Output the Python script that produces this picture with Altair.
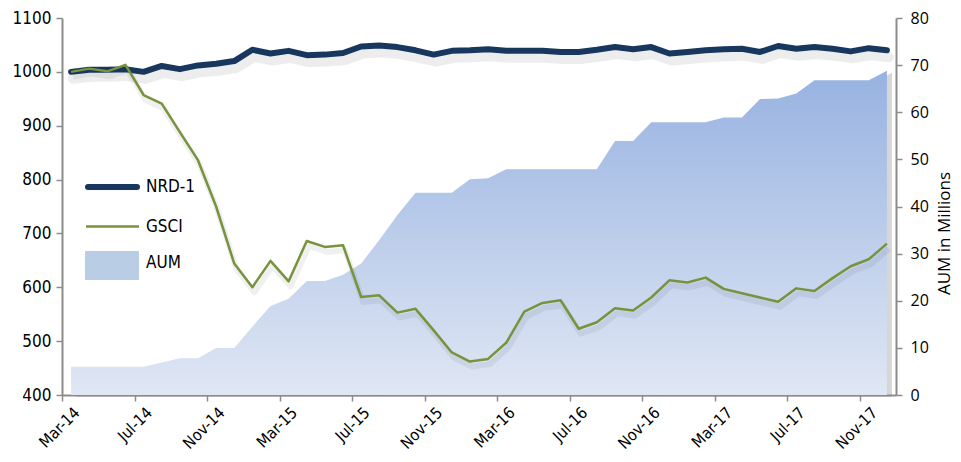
import altair as alt
import pandas as pd

months = ["Mar-14", "Apr-14", "May-14", "Jun-14", "Jul-14", "Aug-14", "Sep-14", "Oct-14", "Nov-14", "Dec-14",
          "Jan-15", "Feb-15", "Mar-15", "Apr-15", "May-15", "Jun-15", "Jul-15", "Aug-15", "Sep-15", "Oct-15", "Nov-15", "Dec-15",
          "Jan-16", "Feb-16", "Mar-16", "Apr-16", "May-16", "Jun-16", "Jul-16", "Aug-16", "Sep-16", "Oct-16", "Nov-16", "Dec-16",
          "Jan-17", "Feb-17", "Mar-17", "Apr-17", "May-17", "Jun-17", "Jul-17", "Aug-17", "Sep-17", "Oct-17", "Nov-17", "Dec-17"]

nrd = [1000, 1004, 1004, 1005, 1000, 1011, 1005, 1012, 1015, 1020,
       1041, 1034, 1039, 1031, 1032, 1035, 1047, 1049, 1046, 1040, 1032, 1039,
       1040, 1042, 1039, 1039, 1039, 1037, 1037, 1041, 1046, 1042, 1046, 1034,
       1037, 1040, 1042, 1043, 1037, 1048, 1043, 1046, 1043, 1038, 1044, 1040]

gsci = [1000, 1006, 1001, 1013, 957, 941, 888, 836, 750, 644,
        600, 649, 611, 686, 675, 678, 582, 585, 553, 560, 520, 479,
        462, 467, 497, 555, 571, 576, 523, 535, 561, 557, 581, 613,
        609, 618, 597, 589, 581, 573, 598, 593, 617, 639, 652, 681]

aum = [6.0, 6.0, 6.0, 6.0, 6.0, 6.9, 7.8, 7.8, 10.0, 10.0,
       14.5, 18.9, 20.4, 24.2, 24.2, 25.5, 27.9, 32.9, 38.2, 42.9, 42.9, 42.9,
       45.8, 46.0, 47.9, 47.9, 47.9, 47.9, 47.9, 47.9, 53.9, 53.9, 57.9, 57.9,
       57.9, 57.9, 58.9, 58.9, 62.8, 62.9, 64.0, 66.8, 66.8, 66.8, 66.8, 68.8]

series_names = ["NRD-1", "GSCI", "AUM"]
NAVY, GREEN, LIGHT = "#17375e", "#77933c", "#b9cde5"

df = pd.DataFrame({"i": list(range(len(months))), "month": months,
                   "nrd": nrd, "gsci": gsci, "aum": aum})

W, H = 834, 377
band = W / len(months)
FONT = "'DejaVu Sans Condensed', 'DejaVu Sans', sans-serif"
RFONT = "'Open Sans', 'DejaVu Sans', sans-serif"
GRAY = "#8c8c8c"

label_expr = "[" + ",".join(f"'{m}'" for m in months) + "][datum.value]"

x_scale = alt.Scale(domain=[-0.5, len(months) - 0.5], nice=False, zero=False)
x_axis = alt.Axis(values=list(range(0, len(months), 4)), labelExpr=label_expr,
                  tickOffset=-band / 2, labelOffset=band / 2,
                  labelAngle=-45, labelFont=FONT, labelFontSize=16,
                  labelColor="black", tickSize=6, tickColor=GRAY, tickWidth=1.5,
                  domainColor=GRAY, domainWidth=2, grid=False, title=None,
                  labelPadding=3)
x_enc = alt.X("i:Q", scale=x_scale, axis=x_axis)

right_axis = alt.Axis(orient="right", values=list(range(0, 81, 10)), title="AUM in Millions",
                      titleFont=RFONT, titleFontSize=17, titleFontWeight="normal", titleColor="black",
                      titleAngle=270, titleBaseline="top", titleY=215,
                      labelFont=RFONT, labelFontSize=16, labelColor="black", tickSize=6,
                      tickColor=GRAY, tickWidth=1.5, domainColor=GRAY, domainWidth=2,
                      labelPadding=8, titlePadding=8, grid=False)
left_axis = alt.Axis(orient="left", values=list(range(400, 1101, 100)), format="d", title=None,
                     labelFont=FONT, labelFontSize=17, labelColor="black", tickSize=6,
                     tickColor=GRAY, tickWidth=1.5, domainColor=GRAY, domainWidth=2,
                     labelPadding=5, grid=False)

y_right = alt.Scale(domain=[0, 80], nice=False, zero=True)
y_left = alt.Scale(domain=[400, 1100], nice=False, zero=False)

gradient = alt.Gradient(gradient="linear",
                        stops=[alt.GradientStop(color="#97b2e1", offset=0),
                               alt.GradientStop(color="#e0e7f4", offset=1)],
                        x1=0, x2=0, y1=0, y2=1)

base = alt.Chart(df)

def yr(field):
    return alt.Y(field, type="quantitative", scale=y_right, axis=right_axis)

def yl(field):
    return alt.Y(field, type="quantitative", scale=y_left, axis=left_axis)

area_shadow = base.mark_area(color="#8a8a8a", opacity=0.35, xOffset=5, yOffset=2).encode(
    x=x_enc, y=yr("aum"))
area = base.mark_area(fill=gradient).encode(x=x_enc, y=yr("aum"))
right = alt.layer(area_shadow, area)

nrd_shadow = base.mark_line(color="#000000", opacity=0.07, strokeWidth=10, xOffset=2, yOffset=7,
                            strokeCap="round", strokeJoin="round").encode(x=x_enc, y=yl("nrd"))
gsci_shadow = base.mark_line(color="#000000", opacity=0.06, strokeWidth=6, xOffset=2, yOffset=5,
                             strokeJoin="round").encode(x=x_enc, y=yl("gsci"))
nrd_line = base.mark_line(strokeWidth=6, strokeCap="round", strokeJoin="round", color=NAVY).encode(
    x=x_enc, y=yl("nrd"))
gsci_line = base.mark_line(strokeWidth=2.5, strokeJoin="round", color=GREEN).encode(
    x=x_enc, y=yl("gsci"))
left = alt.layer(nrd_shadow, gsci_shadow, nrd_line, gsci_line)

# legend (drawn as guide marks in pixel space)
one = pd.DataFrame({"k": [0]})
lg = alt.Chart(one)
leg_nrd = lg.mark_rule(color=NAVY, strokeWidth=6, strokeCap="round").encode(
    x=alt.value(26), x2=alt.value(75), y=alt.value(169))
leg_gsci = lg.mark_rule(color=GREEN, strokeWidth=2.5).encode(
    x=alt.value(24), x2=alt.value(77), y=alt.value(208.5))
leg_aum = lg.mark_rect(color=LIGHT).encode(
    x=alt.value(23), x2=alt.value(77), y=alt.value(233), y2=alt.value(262))
leg_text = alt.layer(*[
    lg.mark_text(align="left", baseline="middle", font=FONT, fontSize=17, color="black").encode(
        x=alt.value(84), y=alt.value(yy), text=alt.value(name))
    for name, yy in zip(series_names, [169, 208.5, 245])
])

chart = alt.layer(right, left, leg_nrd, leg_gsci, leg_aum, leg_text).resolve_scale(y="independent").properties(
    width=W, height=H, background="white",
    padding={"top": 1, "left": 4, "right": 0, "bottom": 2}
).configure_view(stroke=None)

chart.save("out.html", embed_options={"renderer": "svg", "actions": False})
